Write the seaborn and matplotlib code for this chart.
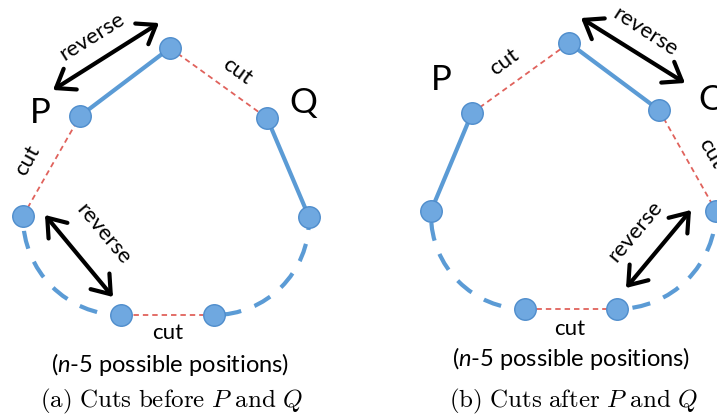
import matplotlib
matplotlib.use("Agg")
import matplotlib.pyplot as plt
from matplotlib.patches import Arc, FancyArrowPatch
import seaborn as sns
import pandas as pd

sns.set_theme(style="white")
plt.rcParams["font.family"] = ["Lato", "DejaVu Sans"]
plt.rcParams["text.color"] = "black"
# Computer Modern for the captions, Lato italic (via \mathsf) for the "n"
plt.rcParams["mathtext.fontset"] = "custom"
plt.rcParams["mathtext.rm"] = "cmr10"
plt.rcParams["mathtext.it"] = "cmmi10"
plt.rcParams["mathtext.sf"] = "Lato:italic"

# node positions (pixels, y down) for the two panels
a_x = [23, 80, 170, 267, 309, 214, 121]
a_y = [216, 116, 48, 118, 217, 315, 315]
b_x = [431, 472, 569, 659, 716, 617, 525]
b_y = [211, 113, 43, 110, 211, 309, 309]

# edges between consecutive nodes: "keep" = solid tour edge, "cut" = removed edge
a_edges = ["cut", "keep", "cut", "keep", None, "cut", None]
b_edges = ["keep", "cut", "keep", "cut", None, "cut", None]

captions = [r"$\mathrm{(a)\ Cuts\ before}\ P\ \mathrm{and}\ Q$",
            r"$\mathrm{(b)\ Cuts\ after}\ P\ \mathrm{and}\ Q$"]
positions_label = r"($\mathsf{n}$-5 possible positions)"

BLUE = "#5b9bd5"
RED = "#e0625c"
NODE = "#6fa8e0"
NODE_EDGE = "#4f8dcc"

fig = plt.figure(figsize=(7.17, 4.18), dpi=100)
ax = fig.add_axes([0, 0, 1, 1])
ax.set_xlim(0, 717)
ax.set_ylim(418, 0)
ax.axis("off")


def draw_panel(xs, ys, edges):
    for i, kind in enumerate(edges):
        if kind is None:
            continue
        j = i + 1
        seg = pd.DataFrame({"x": [xs[i], xs[j]], "y": [ys[i], ys[j]]})
        if kind == "keep":
            sns.lineplot(data=seg, x="x", y="y", ax=ax, color=BLUE, lw=3.0,
                         sort=False, zorder=2)
        else:
            sns.lineplot(data=seg, x="x", y="y", ax=ax, color=RED, lw=1.3,
                         sort=False, dashes=False, zorder=2,
                         linestyle=(0, (3, 2.2)))
    # dashed arcs along the rest of the tour
    r_left = xs[6] - xs[0]
    r_right = xs[4] - xs[5]
    ax.add_patch(Arc((xs[6], ys[6] - r_left), 2 * r_left, 2 * r_left,
                     theta1=90, theta2=180, color=BLUE, lw=3.0,
                     linestyle=(2, (4.4, 3.4)), zorder=1))
    ax.add_patch(Arc((xs[5], ys[5] - r_right), 2 * r_right, 2 * r_right,
                     theta1=0, theta2=90, color=BLUE, lw=3.0,
                     linestyle=(2, (4.4, 3.4)), zorder=1))
    nodes = pd.DataFrame({"x": xs, "y": ys})
    sns.scatterplot(data=nodes, x="x", y="y", ax=ax, s=240, color=NODE,
                    edgecolor=NODE_EDGE, linewidth=1.0, zorder=4)


def arrow(p0, p1):
    ax.add_patch(FancyArrowPatch(p0, p1, arrowstyle="<->,head_length=0.55,head_width=0.4",
                                 mutation_scale=22, lw=3.0, color="black",
                                 shrinkA=0, shrinkB=0, zorder=3))


draw_panel(a_x, a_y, a_edges)
draw_panel(b_x, b_y, b_edges)

# panel (a) annotations
arrow((53, 90), (159, 23))
arrow((45, 215), (113, 297))
ax.text(40, 113, "P", fontsize=25, ha="center", va="center")
ax.text(303, 103, "Q", fontsize=25, ha="center", va="center")
ax.text(92, 37, "reverse", fontsize=16, rotation=32, ha="center", va="center")
ax.text(103, 234, "reverse", fontsize=16, rotation=-50, ha="center", va="center")
ax.text(237, 71, "cut", fontsize=16, rotation=-36, ha="center", va="center")
ax.text(27, 160, "cut", fontsize=16, rotation=61, ha="center", va="center")
ax.text(168, 333, "cut", fontsize=16, ha="center", va="center")
ax.text(170, 365, positions_label, fontsize=17, ha="center", va="center")
ax.text(171, 401, captions[0], fontsize=18, ha="center", va="center")

# panel (b) annotations
arrow((581, 18), (685, 83))
arrow((691, 210), (626, 288))
ax.text(441, 80, "P", fontsize=25, ha="center", va="center")
ax.text(712, 100, "Q", fontsize=25, ha="center", va="center")
ax.text(645, 32, "reverse", fontsize=16, rotation=-33, ha="center", va="center")
ax.text(635, 231, "reverse", fontsize=16, rotation=50, ha="center", va="center")
ax.text(504, 62, "cut", fontsize=16, rotation=36, ha="center", va="center")
ax.text(711, 153, "cut", fontsize=16, rotation=-60, ha="center", va="center")
ax.text(570, 329, "cut", fontsize=16, ha="center", va="center")
ax.text(571, 358, positions_label, fontsize=17, ha="center", va="center")
ax.text(573, 401, captions[1], fontsize=18, ha="center", va="center")

fig.savefig("out.png", dpi=100)
